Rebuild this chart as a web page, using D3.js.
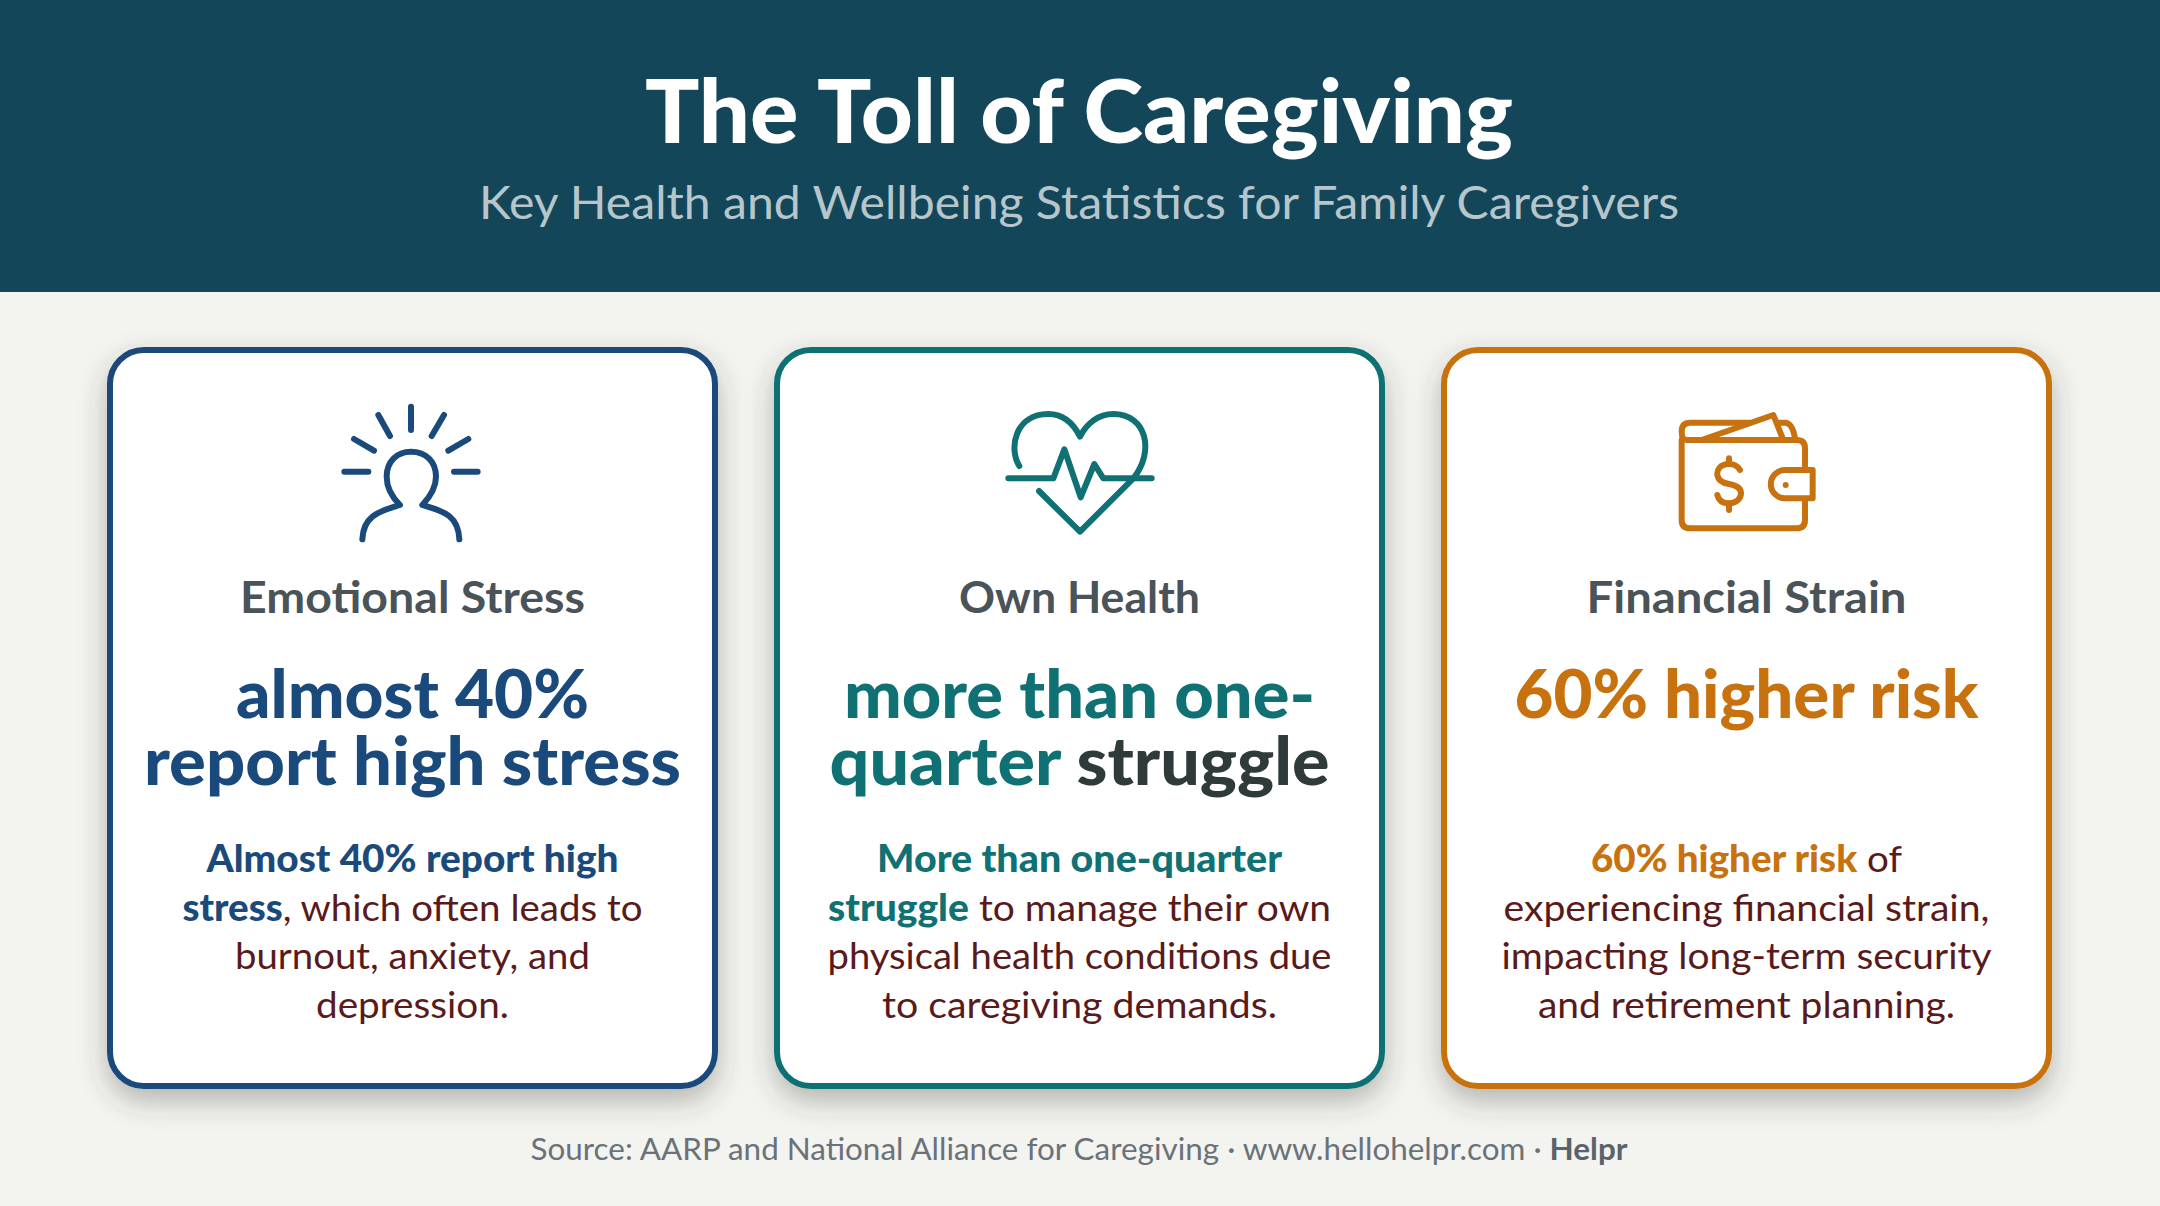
<!DOCTYPE html>
<html><head><meta charset="utf-8">
<script src="https://cdnjs.cloudflare.com/ajax/libs/d3/7.8.5/d3.min.js"></script>
<style>html,body{margin:0;padding:0;background:#f3f3f0}svg{display:block}text{font-family:Lato,sans-serif;text-anchor:middle}</style>
</head><body><svg id="c" width="2160" height="1206"></svg>
<script>
const categories = ["Emotional Stress", "Own Health", "Financial Strain"];
const accentColors = ["#1a4a7c", "#0f7173", "#c8720f"];
const titleText = "The Toll of Caregiving";
const subtitleText = "Key Health and Wellbeing Statistics for Family Caregivers";
const headlines = [
  [[["almost 40%", "a"]], [["report high stress", "a"]]],
  [[["more than one-", "a"]], [["quarter ", "a"], ["struggle", "d"]]],
  [[["60% higher risk", "a"]]]
];
const bodies = [
  [[["Almost 40% report high", "b"]], [["stress", "b"], [", which often leads to", "m"]], [["burnout, anxiety, and", "m"]], [["depression.", "m"]]],
  [[["More than one-quarter", "b"]], [["struggle", "b"], [" to manage their own", "m"]], [["physical health conditions due", "m"]], [["to caregiving demands.", "m"]]],
  [[["60% higher risk", "b"], [" of", "m"]], [["experiencing financial strain,", "m"]], [["impacting long-term security", "m"]], [["and retirement planning.", "m"]]]
];
const sourceRuns = [["Source: AARP and National Alliance for Caregiving · www.hellohelpr.com · ", "n"], ["Helpr", "s"]];

// layout (widths of rendered lines, px)
const headingW = [345, 241, 320];
const headW = [[353, 537], [471, 500], [464]];
const bodyW = [[412, 460, 355, 193], [405, 503, 504, 395], [311, 486, 490, 417]];

const svg = d3.select("#c");
const W = 2160, H = 1206;
const defs = svg.append("defs");
const f = defs.append("filter").attr("id", "sh").attr("x", "-15%").attr("y", "-15%").attr("width", "130%").attr("height", "130%");
f.append("feDropShadow").attr("dx", 0).attr("dy", 12).attr("stdDeviation", 14).attr("flood-color", "#3a3a30").attr("flood-opacity", 0.34);

svg.append("rect").attr("width", W).attr("height", H).attr("fill", "#f3f3f0");
svg.append("rect").attr("width", W).attr("height", 292).attr("fill", "#14465a");

function fit(sel, w) { sel.attr("textLength", w).attr("lengthAdjust", "spacingAndGlyphs"); return sel; }

fit(svg.append("text").attr("x", 1079).attr("y", 143).attr("font-size", 88).attr("font-weight", 900).attr("fill", "#fff").text(titleText), 868);
fit(svg.append("text").attr("x", 1079).attr("y", 219).attr("font-size", 46).attr("fill", "#b6c6cb").text(subtitleText), 1200);

const x = d3.scaleBand().domain(categories).range([110, 2049]).paddingInner(0.093).paddingOuter(0);
const color = d3.scaleOrdinal().domain(categories).range(accentColors);

const cards = svg.selectAll("g.card").data(categories).join("g").attr("class", "card");
cards.append("rect")
  .attr("x", d => x(d)).attr("y", 350)
  .attr("width", x.bandwidth()).attr("height", 736)
  .attr("rx", 34).attr("fill", "#fff").attr("stroke", d => color(d)).attr("stroke-width", 6)
  .attr("filter", "url(#sh)");

const iconPaths = [
  ["M333,80V150M235,105L270,168M162,177L222,212M133,275H205M462,275H533M505,177L445,212M432,105L395,168",
   "M187,478C190,400 250,392 300,375C270,345 260,320 260,290C260,245 290,215 333,215C378,215 408,245 408,290C408,320 395,345 367,375C420,392 475,400 478,478"],
  ["M148,258C115,205 135,102 235,102C280,102 310,130 330,170C350,130 385,102 430,102C530,102 555,215 490,295L330,455L207,333",
   "M115,295H250L283,208L332,352L373,252L400,295H545"],
  ["M125,150V390Q125,415 150,415H470Q495,415 495,390V330M495,238V175Q495,150 470,150H140Q125,150 125,125Q125,98 150,98H330",
   "M185,150L400,75L430,150M415,98H435Q458,98 466,150",
   "M518,240H435A42.500,42.500 0 0 0 435,325H518Z",
   "M300,240Q290,222 267,222C240,222 230,240 232,255C235,275 255,280 267,282C290,286 303,295 303,310C303,328 285,340 267,340C245,340 235,328 232,315M267,205V222M267,340V360"]
];
const iconOrigins = [[300, 380], [970, 380], [1640, 390]];
categories.forEach((c, i) => {
  const g = svg.append("g").attr("transform", `translate(${iconOrigins[i]}) scale(${1/3})`)
    .attr("fill", "none").attr("stroke", color(c)).attr("stroke-width", 18)
    .attr("stroke-linecap", "round").attr("stroke-linejoin", "round");
  iconPaths[i].forEach(p => g.append("path").attr("d", p));
  if (i === 2) g.append("circle").attr("cx", 437).attr("cy", 285).attr("r", 9).attr("fill", color(c)).attr("stroke", "none");
});

function runsText(parent, runs, cx, y, size, w, styleFn) {
  const t = parent.append("text").attr("x", cx).attr("y", y).attr("font-size", size).attr("xml:space", "preserve");
  runs.forEach(r => { const s = t.append("tspan").text(r[0]); styleFn(s, r[1]); });
  fit(t, w);
  return t;
}
categories.forEach((c, i) => {
  const cx = x(c) + x.bandwidth() / 2;
  fit(svg.append("text").attr("x", cx).attr("y", 613).attr("font-size", 44).attr("font-weight", 700).attr("fill", "#4a5358").text(c), headingW[i]);
  headlines[i].forEach((line, j) => {
    runsText(svg, line, cx, 718 + j * 67, 66, headW[i][j], (s, k) => s.attr("font-weight", 900).attr("fill", k === "a" ? color(c) : "#2f3a3a"));
  });
  bodies[i].forEach((line, j) => {
    runsText(svg, line, cx, 872 + j * 48.5, 37, bodyW[i][j], (s, k) => {
      if (k === "b") s.attr("font-weight", 900).attr("fill", color(c));
      else s.attr("fill", "#5a1a1a");
    });
  });
});
runsText(svg, sourceRuns, 1079, 1160, 30, 1097, (s, k) => {
  s.attr("fill", k === "s" ? "#5a6369" : "#6a7278").attr("font-weight", k === "s" ? 700 : 400);
});
</script></body></html>
